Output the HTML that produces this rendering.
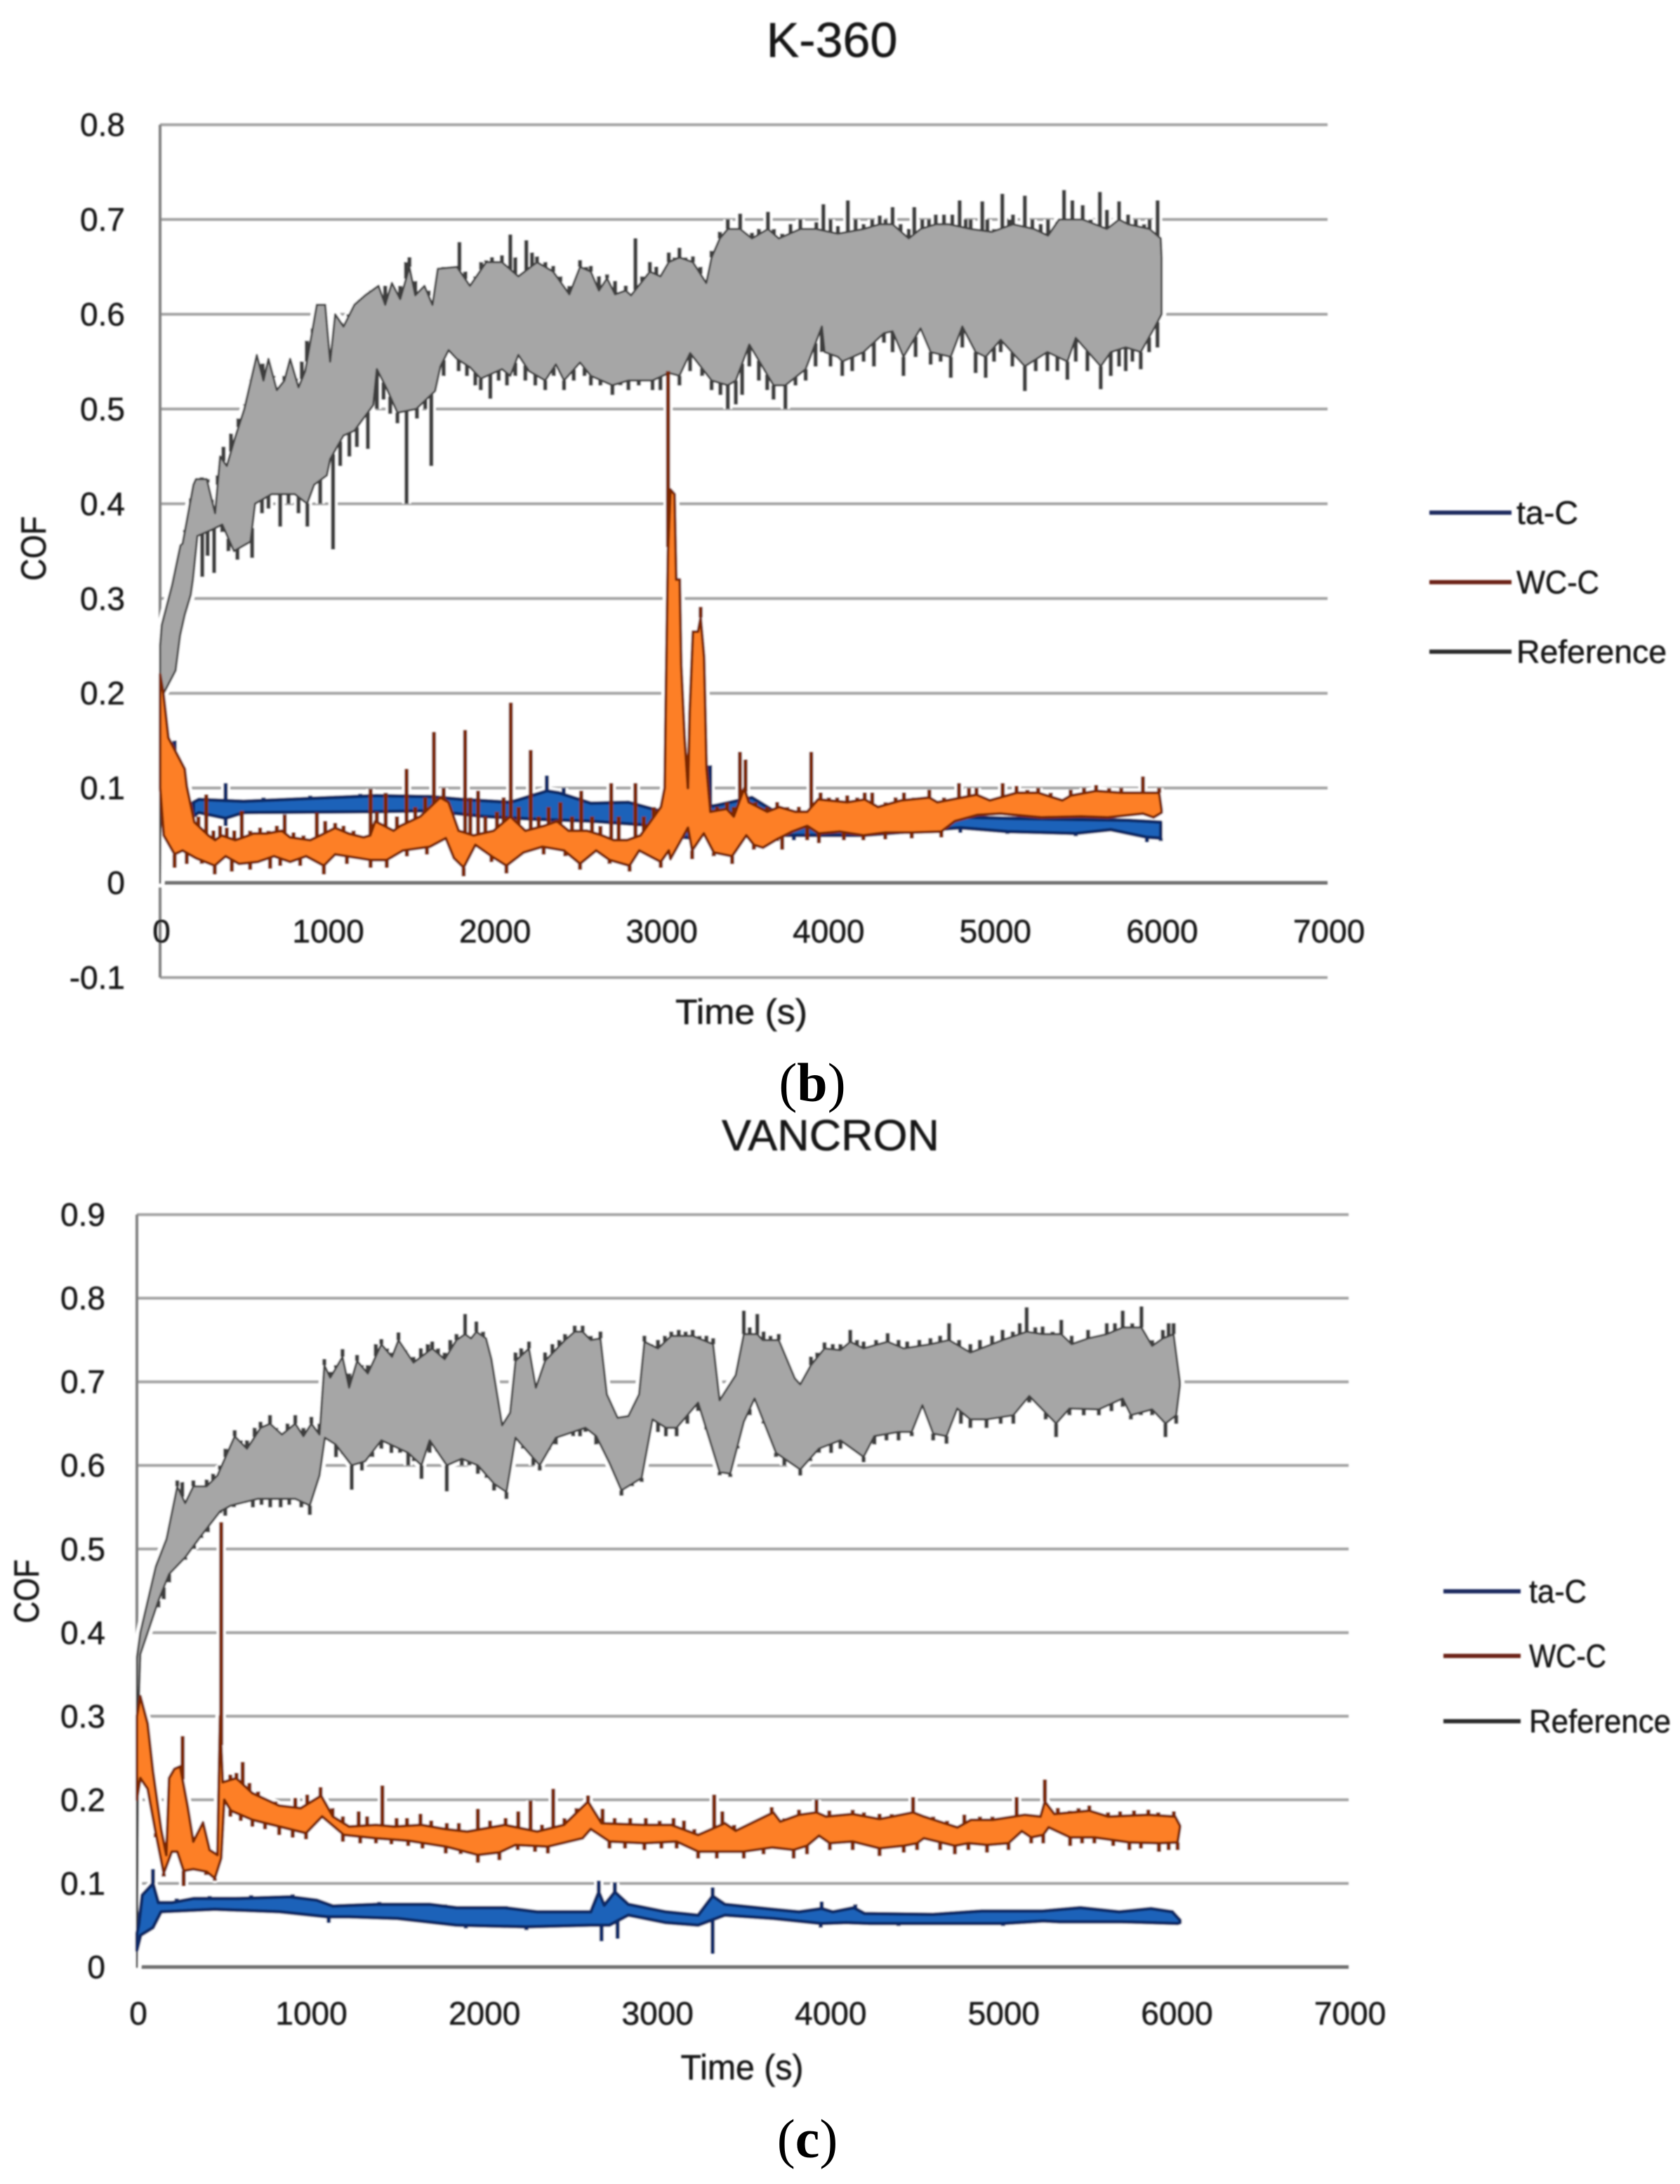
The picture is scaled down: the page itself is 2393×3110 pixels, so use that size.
<!DOCTYPE html>
<html lang="en">
<head>
<meta charset="utf-8">
<title>COF vs Time: K-360 and VANCRON</title>
<style>
html,body{margin:0;padding:0;background:#fff;}
svg{display:block;}
text{font-family:"Liberation Sans",sans-serif;fill:#141414;stroke:#141414;stroke-width:.5px;}
.sub{font-family:"Liberation Serif",serif;fill:#000;stroke:none;font-size:78px;}
</style>
</head>
<body>
<svg id="figure" xmlns="http://www.w3.org/2000/svg" width="2393" height="3110" viewBox="0 0 2393 3110">
  <defs>
    <filter id="soft" x="-2%" y="-2%" width="104%" height="104%"><feGaussianBlur stdDeviation="1"/></filter>
  </defs>
  <rect x="0" y="0" width="2393" height="3110" fill="#fff"/>
  <g id="chartK" filter="url(#soft)">
    <text x="1185" y="81" font-size="70" text-anchor="middle">K-360</text>
    <text transform="translate(65,781) rotate(-90)" font-size="50" text-anchor="middle" textLength="92" lengthAdjust="spacingAndGlyphs">COF</text>
    <text x="1056" y="1458" font-size="50" text-anchor="middle" textLength="188" lengthAdjust="spacingAndGlyphs">Time (s)</text>
  </g>
  <g id="chartV" filter="url(#soft)">
    <text x="1183" y="1638" font-size="62" text-anchor="middle" textLength="310" lengthAdjust="spacingAndGlyphs">VANCRON</text>
    <text transform="translate(55,2266) rotate(-90)" font-size="50" text-anchor="middle" textLength="91" lengthAdjust="spacingAndGlyphs">COF</text>
    <text x="1057" y="2961" font-size="50" text-anchor="middle" textLength="175" lengthAdjust="spacingAndGlyphs">Time (s)</text>
  </g>
  <text class="sub" x="1157" y="1568" text-anchor="middle"><tspan>(</tspan><tspan font-weight="bold">b</tspan><tspan>)</tspan></text>
  <text class="sub" x="1150" y="3072" text-anchor="middle"><tspan>(</tspan><tspan font-weight="bold">c</tspan><tspan>)</tspan></text>
</svg>
<script>
// ---- shared tick labels and legend labels ----
const xTickLabels = [0,1000,2000,3000,4000,5000,6000,7000];
const k360YTickLabels = [0.8,0.7,0.6,0.5,0.4,0.3,0.2,0.1,0,-0.1];
const vancronYTickLabels = [0.9,0.8,0.7,0.6,0.5,0.4,0.3,0.2,0.1,0];
const legendLabels = ['ta-C','WC-C','Reference'];

// ---- K-360: [time s, COF] readings ----
const k360RefTop = [[0,.25],[10,.272],[72,.314],[122,.356],[135,.358],[200,.42],[215,.426],[280,.426],[330,.39],[360,.45],[400,.44],[450,.47],[505,.50],[580,.557],[620,.53],[650,.553],[700,.52],[745,.53],[780,.553],[830,.523],[870,.54],[940,.61],[990,.61],[1020,.55],[1050,.60],[1100,.587],[1165,.61],[1230,.62],[1310,.63],[1350,.61],[1390,.633],[1440,.616],[1495,.65],[1530,.62],[1585,.63],[1633,.61],[1665,.648],[1780,.65],[1858,.63],[1955,.655],[2050,.655],[2148,.64],[2260,.655],[2357,.645],[2454,.621],[2518,.65],[2583,.645],[2631,.625],[2680,.638],[2728,.621],[2792,.625],[2824,.62],[2937,.645],[3000,.64],[3050,.655],[3114,.66],[3195,.655],[3275,.633],[3307,.66],[3356,.68],[3404,.69],[3478,.69],[3549,.68],[3645,.69],[3710,.68],[3839,.69],[3935,.69],[4064,.685],[4218,.69],[4315,.695],[4392,.695],[4489,.68],[4560,.69],[4651,.695],[4730,.695],[4860,.69],[4987,.687],[5114,.695],[5240,.69],[5324,.683],[5390,.70],[5532,.70],[5677,.69],[5750,.70],[5804,.695],[5933,.69],[6000,.68],[6005,.66]];
const k360RefLow = [[0,0],[5,.15],[22,.2],[93,.224],[120,.261],[148,.283],[184,.304],[197,.32],[224,.366],[304,.372],[373,.378],[443,.35],[542,.36],[570,.40],[668,.41],[808,.41],[882,.40],[924,.42],[1000,.43],[1020,.447],[1100,.472],[1165,.477],[1278,.504],[1300,.542],[1360,.521],[1423,.496],[1536,.50],[1649,.519],[1681,.545],[1730,.562],[1778,.553],[1858,.544],[1923,.532],[2050,.542],[2100,.535],[2148,.557],[2212,.54],[2309,.53],[2373,.547],[2422,.53],[2518,.549],[2583,.535],[2712,.525],[2808,.53],[2953,.53],[3050,.538],[3114,.535],[3178,.559],[3307,.53],[3404,.525],[3452,.53],[3533,.568],[3678,.525],[3749,.525],[3871,.542],[3968,.587],[3984,.56],[4064,.555],[4090,.55],[4218,.56],[4340,.58],[4392,.582],[4457,.555],[4560,.585],[4620,.56],[4741,.555],[4810,.587],[4890,.56],[4950,.555],[5040,.573],[5185,.545],[5320,.56],[5440,.55],[5490,.575],[5640,.545],[5700,.56],[5790,.565],[5880,.56],[5960,.585],[6005,.60]];
const k360RefTopSpikes = [[150,.37],[185,.40],[215,.426],[250,.428],[285,.426],[310,.40],[345,.43],[380,.46],[425,.474],[470,.49],[510,.505],[545,.53],[580,.557],[615,.548],[650,.553],[680,.535],[745,.535],[780,.553],[815,.53],[850,.55],[880,.572],[915,.58],[945,.61],[985,.61],[1050,.60],[1085,.585],[1130,.60],[1165,.61],[1200,.615],[1230,.62],[1265,.625],[1310,.63],[1350,.63],[1390,.633],[1440,.63],[1475,.655],[1495,.66],[1530,.635],[1585,.63],[1610,.625],[1665,.648],[1700,.65],[1740,.65],[1795,.676],[1830,.645],[1890,.64],[1925,.655],[1955,.657],[1990,.66],[2050,.662],[2100,.684],[2130,.66],[2196,.678],[2230,.665],[2260,.661],[2310,.655],[2357,.651],[2400,.64],[2454,.63],[2518,.657],[2555,.65],[2583,.651],[2631,.64],[2680,.642],[2728,.635],[2792,.63],[2850,.68],[2890,.64],[2937,.655],[2975,.65],[3050,.665],[3085,.66],[3114,.67],[3150,.66],[3195,.661],[3240,.65],[3307,.667],[3356,.687],[3404,.70],[3440,.69],[3478,.706],[3510,.685],[3549,.686],[3590,.69],[3645,.708],[3680,.69],[3730,.685],[3780,.695],[3839,.70],[3890,.69],[3935,.697],[3977,.716],[4020,.70],[4064,.693],[4124,.72],[4170,.70],[4218,.695],[4270,.70],[4315,.704],[4350,.70],[4392,.713],[4440,.695],[4489,.69],[4522,.713],[4570,.70],[4610,.70],[4651,.705],[4700,.705],[4750,.705],[4794,.72],[4830,.70],[4860,.70],[4930,.719],[4960,.70],[5000,.69],[5050,.727],[5090,.70],[5114,.705],[5185,.725],[5230,.70],[5280,.695],[5324,.70],[5380,.695],[5420,.731],[5470,.72],[5532,.715],[5580,.70],[5635,.729],[5677,.71],[5750,.719],[5804,.705],[5850,.70],[5900,.695],[5933,.70],[5981,.72]];
const k360RefLowSpikes = [[253,.323],[285,.345],[324,.327],[373,.37],[410,.35],[464,.341],[510,.37],[552,.343],[611,.39],[650,.395],[720,.376],[770,.40],[830,.39],[883,.376],[960,.40],[1037,.352],[1080,.44],[1135,.45],[1180,.46],[1246,.458],[1300,.50],[1340,.51],[1380,.495],[1423,.485],[1478,.40],[1540,.49],[1590,.50],[1626,.44],[1700,.535],[1790,.54],[1840,.535],[1890,.525],[1923,.52],[1980,.511],[2030,.53],[2080,.525],[2130,.535],[2190,.53],[2250,.525],[2309,.52],[2360,.535],[2422,.52],[2480,.53],[2545,.535],[2583,.525],[2640,.525],[2712,.515],[2760,.525],[2808,.52],[2870,.525],[2953,.52],[3000,.52],[3114,.525],[3178,.54],[3250,.535],[3307,.52],[3360,.515],[3404,.50],[3452,.505],[3490,.515],[3533,.545],[3590,.53],[3640,.52],[3678,.51],[3749,.50],[3810,.525],[3871,.53],[3930,.545],[3968,.56],[4020,.545],[4090,.535],[4150,.54],[4218,.55],[4280,.545],[4340,.57],[4392,.56],[4457,.535],[4530,.555],[4620,.547],[4680,.55],[4741,.533],[4810,.565],[4890,.538],[4950,.533],[5000,.55],[5040,.56],[5110,.545],[5185,.519],[5250,.54],[5320,.54],[5380,.54],[5440,.531],[5490,.55],[5560,.54],[5640,.521],[5700,.535],[5750,.545],[5790,.54],[5830,.55],[5880,.542],[5930,.56],[5980,.565]];

const k360TacTop = [[200,.085],[232,.088],[500,.086],[1295,.092],[1617,.091],[1810,.088],[2100,.085],[2319,.097],[2390,.095],[2583,.084],[2808,.085],[3034,.074],[3280,.08],[3340,.082],[3549,.09],[3678,.076],[4061,.072],[4600,.07],[5100,.068],[5800,.066],[6000,.064]];
const k360TacLow = [[200,.07],[232,.074],[393,.068],[500,.074],[1295,.075],[1617,.076],[1939,.07],[2255,.067],[2583,.065],[2905,.061],[3066,.049],[3195,.047],[3290,.055],[3549,.05],[3880,.05],[4217,.05],[4798,.058],[5080,.054],[5490,.052],[5700,.056],[5917,.048],[6000,.047]];
const k360TacTopSpikes = [[87,.15],[393,.105],[620,.09],[900,.092],[1200,.094],[1700,.095],[2319,.113],[2420,.10],[3298,.124],[3510,.095],[3600,.085]];
const k360TacLowSpikes = [[393,.06],[3800,.045],[4217,.048],[4798,.053],[5080,.0515],[5490,.049],[5917,.043],[6000,.044]];

const k360WcTop = [[0,.22],[20,.20],[50,.153],[148,.12],[160,.102],[206,.064],[290,.05],[330,.045],[370,.05],[450,.045],[500,.048],[560,.052],[640,.052],[730,.055],[780,.048],[900,.045],[960,.05],[1050,.058],[1130,.052],[1220,.048],[1260,.05],[1290,.065],[1400,.055],[1440,.06],[1560,.07],[1620,.08],[1680,.09],[1730,.085],[1790,.055],[1880,.05],[2000,.055],[2100,.07],[2190,.055],[2300,.06],[2380,.065],[2450,.055],[2560,.055],[2650,.05],[2720,.045],[2800,.045],[2880,.05],[3003,.08],[3025,.10],[3030,.165],[3045,.35],[3060,.415],[3085,.41],[3095,.32],[3116,.32],[3125,.23],[3145,.153],[3165,.10],[3175,.18],[3186,.227],[3195,.265],[3225,.265],[3241,.28],[3262,.238],[3277,.121],[3300,.075],[3397,.078],[3440,.07],[3503,.10],[3530,.085],[3640,.075],[3712,.08],[3810,.075],[3880,.075],[3945,.088],[4120,.085],[4225,.088],[4305,.08],[4444,.087],[4612,.09],[4660,.085],[4895,.093],[4975,.087],[5135,.095],[5265,.095],[5410,.087],[5460,.092],[5612,.097],[5763,.095],[5860,.095],[5990,.095],[6005,.077]];
const k360WcLow = [[0,.10],[22,.05],[87,.03],[135,.034],[215,.026],[328,.018],[393,.028],[473,.02],[586,.022],[683,.028],[780,.022],[876,.028],[982,.018],[1050,.03],[1262,.024],[1359,.024],[1456,.034],[1617,.038],[1713,.047],[1762,.026],[1820,.016],[1891,.04],[1987,.028],[2077,.018],[2180,.032],[2293,.038],[2422,.034],[2518,.02],[2615,.034],[2695,.024],[2815,.018],[2873,.034],[3002,.022],[3050,.034],[3060,.025],[3165,.058],[3190,.034],[3260,.052],[3320,.032],[3430,.028],[3515,.05],[3560,.04],[3615,.037],[3700,.046],[3790,.054],[3880,.06],[3950,.052],[4074,.054],[4217,.05],[4348,.053],[4507,.053],[4684,.054],[4765,.065],[4900,.0716],[5038,.073],[5284,.069],[5522,.07],[5682,.069],[5893,.073],[5957,.069],[6005,.074]];
const k360WcTopSpikes = [[230,.07],[277,.093],[320,.055],[360,.06],[400,.058],[445,.055],[490,.076],[540,.055],[600,.058],[650,.055],[700,.06],[747,.072],[800,.053],[860,.05],[940,.074],[990,.065],[1050,.063],[1100,.06],[1160,.055],[1262,.099],[1300,.075],[1353,.095],[1420,.07],[1478,.12],[1530,.08],[1590,.09],[1642,.159],[1700,.10],[1829,.161],[1860,.09],[1907,.097],[1950,.07],[2020,.075],[2060,.09],[2103,.19],[2150,.08],[2222,.14],[2270,.07],[2330,.08],[2400,.085],[2470,.07],[2525,.097],[2590,.07],[2640,.06],[2705,.105],[2750,.07],[2850,.105],[2900,.07],[2960,.08],[3046,.54],[3241,.291],[3340,.08],[3400,.085],[3440,.08],[3477,.138],[3510,.13],[3570,.085],[3640,.08],[3700,.085],[3760,.08],[3830,.08],[3904,.138],[3960,.095],[4010,.09],[4060,.09],[4120,.092],[4180,.09],[4225,.095],[4270,.095],[4350,.085],[4410,.09],[4460,.095],[4520,.09],[4612,.098],[4700,.09],[4790,.105],[4850,.10],[4895,.10],[5052,.105],[5135,.102],[5200,.098],[5265,.10],[5340,.095],[5460,.098],[5540,.10],[5612,.103],[5690,.10],[5763,.10],[5893,.112],[5990,.10]];
const k360WcLowSpikes = [[87,.016],[160,.02],[250,.02],[328,.009],[430,.012],[540,.014],[660,.015],[720,.018],[840,.018],[982,.009],[1120,.02],[1262,.016],[1359,.016],[1480,.028],[1600,.03],[1820,.007],[1987,.022],[2077,.01],[2300,.03],[2430,.028],[2518,.014],[2695,.02],[2815,.012],[3002,.016],[3190,.025],[3320,.028],[3430,.02],[3560,.035],[3700,.044],[3730,.035],[3880,.045],[3950,.042],[4100,.045],[4217,.045],[4348,.046],[4507,.047],[4684,.048]];

// ---- VANCRON: [time s, COF] readings ----
const vancronRefTop = [[0,.37],[20,.40],[109,.479],[171,.512],[233,.575],[279,.555],[326,.575],[403,.575],[465,.588],[512,.61],[565,.635],[636,.62],[714,.645],[769,.65],[838,.637],[915,.65],[962,.635],[1008,.65],[1055,.637],[1083,.72],[1117,.705],[1188,.73],[1226,.693],[1272,.725],[1334,.71],[1412,.745],[1474,.73],[1511,.75],[1598,.723],[1706,.74],[1778,.727],[1846,.75],[1896,.757],[1930,.752],[1961,.76],[2017,.752],[2048,.727],[2110,.648],[2156,.663],[2187,.725],[2265,.74],[2305,.693],[2358,.725],[2473,.75],[2529,.76],[2575,.76],[2622,.75],[2678,.752],[2715,.685],[2777,.657],[2839,.659],[2901,.685],[2932,.748],[3010,.74],[3087,.755],[3211,.755],[3329,.745],[3366,.678],[3459,.708],[3506,.757],[3584,.757],[3615,.75],[3708,.75],[3801,.704],[3832,.697],[3894,.72],[3972,.74],[4064,.738],[4121,.748],[4198,.74],[4337,.748],[4430,.74],[4584,.745],[4692,.75],[4815,.735],[5001,.75],[5140,.76],[5232,.757],[5340,.757],[5400,.745],[5495,.752],[5603,.757],[5695,.765],[5803,.765],[5865,.743],[5927,.752],[5989,.757],[6025,.70]];
const vancronRefLow = [[0,0],[8,.30],[20,.374],[124,.438],[186,.47],[279,.49],[372,.516],[481,.545],[543,.552],[698,.56],[791,.56],[915,.56],[999,.552],[1055,.588],[1086,.633],[1148,.625],[1241,.60],[1319,.605],[1412,.63],[1567,.615],[1644,.60],[1691,.63],[1790,.60],[1877,.608],[1970,.60],[2063,.578],[2135,.568],[2187,.633],[2327,.60],[2420,.633],[2591,.645],[2653,.635],[2730,.603],[2799,.57],[2916,.585],[2979,.655],[3056,.645],[3118,.645],[3242,.675],[3366,.592],[3428,.59],[3506,.652],[3568,.68],[3692,.615],[3832,.595],[3940,.62],[4064,.63],[4198,.61],[4260,.635],[4400,.64],[4476,.64],[4538,.672],[4600,.638],[4677,.635],[4739,.668],[4815,.655],[4908,.655],[5063,.66],[5155,.683],[5310,.65],[5387,.668],[5557,.667],[5695,.68],[5742,.66],[5865,.667],[5942,.65],[6004,.66],[6025,.695]];
const vancronRefTopSpikes = [[233,.582],[262,.58],[326,.582],[360,.575],[403,.583],[440,.59],[480,.60],[512,.62],[565,.642],[600,.63],[636,.63],[680,.645],[714,.652],[769,.66],[805,.645],[870,.65],[915,.66],[962,.645],[1008,.658],[1055,.65],[1083,.727],[1117,.712],[1150,.72],[1188,.739],[1226,.71],[1272,.732],[1300,.72],[1334,.72],[1380,.745],[1412,.751],[1445,.74],[1474,.735],[1511,.759],[1550,.735],[1598,.73],[1640,.74],[1680,.745],[1706,.748],[1740,.74],[1778,.735],[1810,.75],[1846,.757],[1896,.781],[1961,.772],[2000,.76],[2187,.735],[2220,.74],[2265,.748],[2358,.735],[2400,.745],[2440,.75],[2473,.757],[2529,.767],[2575,.767],[2622,.755],[2678,.76],[2932,.755],[2970,.745],[3010,.75],[3050,.755],[3087,.76],[3130,.762],[3170,.76],[3211,.762],[3250,.755],[3290,.755],[3329,.752],[3506,.785],[3540,.765],[3584,.781],[3620,.76],[3660,.755],[3708,.757],[3894,.73],[3930,.735],[3972,.747],[4020,.745],[4064,.745],[4121,.762],[4160,.75],[4198,.748],[4270,.75],[4337,.758],[4400,.75],[4450,.748],[4520,.75],[4584,.752],[4640,.755],[4692,.77],[4750,.75],[4815,.745],[4870,.75],[4940,.755],[5001,.762],[5060,.76],[5100,.77],[5140,.789],[5190,.765],[5232,.766],[5290,.76],[5340,.774],[5400,.755],[5495,.762],[5550,.755],[5603,.77],[5650,.77],[5695,.785],[5750,.77],[5803,.79],[5865,.75],[5927,.762],[5960,.77],[5989,.77]];
const vancronRefLowSpikes = [[124,.43],[155,.44],[186,.46],[279,.487],[330,.50],[372,.513],[410,.52],[481,.543],[510,.54],[560,.55],[620,.555],[670,.55],[720,.553],[770,.55],[830,.55],[880,.553],[950,.55],[999,.541],[1150,.61],[1190,.615],[1241,.571],[1300,.594],[1360,.61],[1412,.62],[1470,.615],[1520,.615],[1567,.60],[1600,.605],[1644,.584],[1691,.615],[1735,.62],[1790,.569],[1840,.61],[1877,.60],[1920,.60],[1970,.59],[2020,.585],[2063,.57],[2135,.56],[2230,.62],[2290,.60],[2327,.594],[2380,.62],[2420,.625],[2470,.64],[2520,.635],[2560,.635],[2591,.64],[2653,.625],[2799,.564],[2860,.575],[2916,.58],[3010,.64],[3056,.635],[3118,.635],[3180,.65],[3242,.665],[3290,.655],[3366,.588],[3428,.586],[3470,.62],[3540,.66],[3620,.65],[3692,.61],[3740,.60],[3832,.588],[3890,.605],[3940,.615],[4010,.615],[4064,.62],[4198,.604],[4260,.625],[4330,.63],[4400,.63],[4476,.635],[4600,.63],[4677,.626],[4760,.65],[4815,.645],[4908,.645],[4990,.65],[5063,.65],[5155,.675],[5250,.655],[5310,.634],[5387,.66],[5470,.66],[5557,.66],[5630,.665],[5695,.67],[5742,.655],[5800,.66],[5865,.66],[5942,.634],[6004,.65]];

const vancronTacTop = [[0,.04],[10,.05],[31,.086],[93,.10],[124,.077],[202,.077],[326,.082],[574,.082],[884,.084],[1039,.08],[1132,.073],[1381,.075],[1691,.075],[1846,.071],[2125,.071],[2312,.066],[2622,.066],[2668,.09],[2700,.074],[2761,.09],[2839,.075],[3056,.066],[3242,.062],[3326,.085],[3397,.075],[3677,.069],[3825,.066],[3956,.07],[4020,.066],[4142,.071],[4204,.064],[4600,.063],[4880,.067],[5230,.067],[5450,.071],[5675,.066],[5858,.07],[5982,.066],[6026,.056]];
const vancronTacLow = [[0,.02],[22,.038],[93,.047],[140,.066],[450,.069],[822,.066],[1101,.06],[1226,.06],[1505,.058],[1846,.05],[2250,.048],[2622,.05],[2730,.05],[2839,.062],[3056,.053],[3242,.05],[3397,.062],[3677,.058],[3956,.052],[4097,.053],[4233,.052],[4600,.052],[5004,.052],[5236,.055],[5330,.054],[5687,.054],[6012,.052],[6026,.053]];
const vancronTacTopSpikes = [[93,.117],[2668,.103],[2761,.101],[3326,.095],[3956,.078],[4150,.075],[230,.082],[420,.085],[660,.086],[900,.087],[1400,.078],[1780,.075],[2130,.073]];
const vancronTacLowSpikes = [[1108,.053],[2684,.031],[2777,.034],[3326,.016],[2250,.044],[1900,.046],[3950,.047],[4400,.049],[5004,.049]];

const vancronWcTop = [[0,.30],[20,.324],[62,.291],[93,.234],[140,.165],[170,.134],[186,.226],[217,.237],[250,.24],[295,.19],[326,.15],[382,.173],[420,.14],[465,.134],[480,.30],[496,.221],[574,.226],[667,.208],[822,.193],[946,.19],[1064,.205],[1132,.18],[1226,.168],[1381,.17],[1489,.168],[1644,.17],[1784,.165],[1908,.162],[2125,.17],[2312,.162],[2467,.17],[2606,.198],[2684,.172],[2932,.17],[3087,.17],[3242,.158],[3397,.172],[3459,.163],[3677,.185],[3717,.174],[3825,.182],[3926,.185],[3980,.18],[4135,.183],[4290,.177],[4484,.185],[4546,.18],[4740,.167],[4818,.176],[4942,.176],[5004,.178],[5128,.182],[5220,.18],[5245,.198],[5300,.183],[5502,.187],[5610,.18],[5843,.182],[5998,.18],[6026,.169]];
const vancronWcLow = [[0,.20],[20,.226],[62,.213],[109,.16],[155,.112],[202,.138],[233,.138],[270,.115],[326,.117],[403,.114],[450,.106],[487,.13],[505,.20],[543,.187],[667,.176],[822,.168],[977,.16],[1070,.18],[1195,.158],[1381,.154],[1567,.151],[1784,.144],[1970,.134],[2094,.137],[2187,.146],[2374,.144],[2575,.154],[2622,.165],[2730,.15],[2932,.148],[3118,.15],[3242,.138],[3506,.138],[3670,.143],[3794,.14],[3871,.145],[3941,.157],[4003,.148],[4135,.15],[4290,.142],[4430,.145],[4507,.148],[4546,.154],[4725,.145],[4803,.148],[4911,.146],[5035,.148],[5112,.1625],[5166,.155],[5236,.158],[5267,.167],[5391,.155],[5531,.155],[5733,.149],[5904,.148],[6012,.149],[6026,.167]];
const vancronWcTopSpikes = [[264,.276],[487,.532],[540,.23],[575,.232],[611,.245],[650,.22],[700,.21],[750,.20],[800,.198],[850,.19],[915,.202],[984,.206],[1061,.215],[1130,.19],[1190,.18],[1281,.186],[1330,.18],[1418,.217],[1500,.178],[1560,.178],[1638,.183],[1700,.175],[1790,.172],[1860,.172],[1970,.189],[2040,.175],[2130,.178],[2203,.186],[2274,.199],[2340,.17],[2405,.213],[2470,.178],[2540,.19],[2606,.205],[2690,.189],[2760,.178],[2850,.178],[2940,.178],[3020,.175],[3100,.178],[3160,.175],[3220,.165],[3335,.206],[3382,.186],[3450,.17],[3530,.17],[3600,.178],[3667,.191],[3740,.178],[3825,.188],[3926,.2],[4000,.187],[4135,.188],[4200,.185],[4290,.183],[4360,.183],[4430,.183],[4484,.203],[4600,.18],[4680,.175],[4780,.182],[4870,.18],[4942,.18],[5082,.203],[5245,.224],[5320,.19],[5390,.187],[5440,.19],[5502,.193],[5610,.185],[5680,.186],[5760,.187],[5843,.188],[5900,.185],[5990,.186]];
const vancronWcLowSpikes = [[109,.155],[155,.108],[270,.097],[400,.11],[450,.103],[540,.18],[600,.175],[667,.168],[740,.165],[822,.158],[900,.155],[977,.153],[1190,.15],[1290,.148],[1381,.148],[1470,.147],[1567,.145],[1650,.142],[1784,.136],[1870,.135],[1970,.125],[2094,.128],[2200,.14],[2300,.138],[2374,.136],[2470,.148],[2730,.142],[2820,.142],[2932,.14],[3030,.142],[3118,.142],[3242,.13],[3350,.13],[3506,.13],[3620,.135],[3794,.13],[3871,.135],[4003,.14],[4135,.14],[4290,.133],[4430,.137],[4507,.14],[4640,.14],[4725,.135],[4803,.14],[4911,.137],[5035,.14],[5166,.148],[5236,.148],[5391,.145],[5460,.148],[5531,.148],[5640,.145],[5733,.14],[5800,.142],[5904,.138],[5960,.14],[6012,.14]];

// ---- drawing ----
const SVGNS = 'http://www.w3.org/2000/svg';

function makeScale(d0, d1, r0, r1) {
  return function (v) { return r0 + (v - d0) / (d1 - d0) * (r1 - r0); };
}
function envelopeAt(points, t) {
  if (t <= points[0][0]) return points[0][1];
  for (let i = 1; i < points.length; i++) {
    if (t <= points[i][0]) {
      const a = points[i - 1], b = points[i];
      return a[1] + (b[1] - a[1]) * (t - a[0]) / (b[0] - a[0]);
    }
  }
  return points[points.length - 1][1];
}
function bandPath(top, low, x, y) {
  let d = '';
  top.forEach(function (p, i) { d += (i ? 'L' : 'M') + x(p[0]).toFixed(1) + ' ' + y(p[1]).toFixed(1); });
  for (let i = low.length - 1; i >= 0; i--) { d += 'L' + x(low[i][0]).toFixed(1) + ' ' + y(low[i][1]).toFixed(1); }
  return d + 'Z';
}
function spikePath(spikes, base, x, y) {
  let d = '';
  spikes.forEach(function (p) {
    d += 'M' + x(p[0]).toFixed(1) + ' ' + y(p[1]).toFixed(1) + 'L' + x(p[0]).toFixed(1) + ' ' + y(envelopeAt(base, p[0])).toFixed(1);
  });
  return d;
}
function addPath(parent, d, fill, stroke, width) {
  const el = document.createElementNS(SVGNS, 'path');
  el.setAttribute('d', d);
  el.setAttribute('fill', fill);
  el.setAttribute('stroke', stroke);
  el.setAttribute('stroke-width', width);
  el.setAttribute('stroke-linejoin', 'round');
  parent.appendChild(el);
  return el;
}
function addText(parent, x, y, str, size, anchor) {
  const el = document.createElementNS(SVGNS, 'text');
  el.setAttribute('x', x);
  el.setAttribute('y', y);
  el.setAttribute('font-size', size);
  el.setAttribute('text-anchor', anchor);
  el.textContent = str;
  parent.appendChild(el);
  return el;
}

function drawChart(g, prefix, cfg, seriesList) {
  const x = makeScale(0, 7000, cfg.x0, cfg.x1);
  const y = makeScale(cfg.yTop, cfg.yBottom, cfg.py0, cfg.py1);

  cfg.yTicks.forEach(function (v) {
    const grid = document.createElementNS(SVGNS, 'line');
    
    
    grid.setAttribute('x1', cfg.x0);
    grid.setAttribute('x2', cfg.x1);
    grid.setAttribute('y1', y(v));
    grid.setAttribute('y2', y(v));
    grid.setAttribute('stroke', v === 0 ? '#6e6e6e' : '#a2a2a2');
    grid.setAttribute('stroke-width', v === 0 ? 5 : 4);
    g.appendChild(grid);
    const lab = addText(g, cfg.yLabelX, y(v) + 16, String(v), 46, 'end');
    
    
  });

  const axis = document.createElementNS(SVGNS, 'line');
  
  
  axis.setAttribute('x1', cfg.x0);
  axis.setAttribute('x2', cfg.x0);
  axis.setAttribute('y1', cfg.py0);
  axis.setAttribute('y2', cfg.py1);
  axis.setAttribute('stroke', '#808080');
  axis.setAttribute('stroke-width', 4);
  g.appendChild(axis);

  xTickLabels.forEach(function (v) {
    const lab = addText(g, x(v) + cfg.xLabelDx, cfg.xLabelY, String(v), 46, 'middle');
    
    
  });

  seriesList.forEach(function (s) {
    const halo = addPath(g, bandPath(s.top, s.low, x, y) + spikePath(s.topSpikes, s.top, x, y) + spikePath(s.lowSpikes, s.low, x, y), '#fff', '#fff', 13);
    
    
  });
  seriesList.forEach(function (s) {
    const up = addPath(g, spikePath(s.topSpikes, s.top, x, y), 'none', s.edge, s.spikeWidth);
    
    
    const down = addPath(g, spikePath(s.lowSpikes, s.low, x, y), 'none', s.edge, s.spikeWidth);
    
    
    const band = addPath(g, bandPath(s.top, s.low, x, y), s.fill, s.edge, s.edgeWidth);
    
    
  });

  legendLabels.forEach(function (label, i) {
    const swatch = document.createElementNS(SVGNS, 'line');
    
    
    swatch.setAttribute('x1', cfg.legendX0);
    swatch.setAttribute('x2', cfg.legendX1);
    swatch.setAttribute('y1', cfg.legendY[i]);
    swatch.setAttribute('y2', cfg.legendY[i]);
    swatch.setAttribute('stroke', cfg.legendColors[i]);
    swatch.setAttribute('stroke-width', 6);
    g.appendChild(swatch);
    const t = addText(g, cfg.legendTextX, cfg.legendY[i] + 16, label, 46, 'start');
    
    
    t.setAttribute('textLength', cfg.legendWidths[i]);
    t.setAttribute('lengthAdjust', 'spacingAndGlyphs');
  });
}

const legendColours = ['#1a2a5e', '#6c2212', '#2b2b2b'];

drawChart(document.getElementById('chartK'), 'k360', {
  x0: 228, x1: 1891, yTop: 0.8, yBottom: -0.1, py0: 177.6, py1: 1392,
  yTicks: k360YTickLabels, yLabelX: 178, xLabelDx: 2, xLabelY: 1342,
  legendX0: 2036, legendX1: 2153, legendTextX: 2160, legendY: [730, 829, 928],
  legendColors: legendColours, legendWidths: [88, 118, 214]
}, [
  { name: 'reference', top: k360RefTop, low: k360RefLow, topSpikes: k360RefTopSpikes, lowSpikes: k360RefLowSpikes, fill: '#a6a6a6', edge: '#3c3c3c', spikeWidth: 6, edgeWidth: 3 },
  { name: 'ta-c', top: k360TacTop, low: k360TacLow, topSpikes: k360TacTopSpikes, lowSpikes: k360TacLowSpikes, fill: '#1c62b9', edge: '#0b2a68', spikeWidth: 6, edgeWidth: 5 },
  { name: 'wc-c', top: k360WcTop, low: k360WcLow, topSpikes: k360WcTopSpikes, lowSpikes: k360WcLowSpikes, fill: '#fd7f25', edge: '#7a2805', spikeWidth: 6, edgeWidth: 4 }
]);

drawChart(document.getElementById('chartV'), 'vancron', {
  x0: 195, x1: 1921, yTop: 0.9, yBottom: 0, py0: 1729.6, py1: 2801,
  yTicks: vancronYTickLabels, yLabelX: 150, xLabelDx: 2, xLabelY: 2883,
  legendX0: 2056, legendX1: 2166, legendTextX: 2178, legendY: [2266, 2358, 2451],
  legendColors: legendColours, legendWidths: [82, 110, 202]
}, [
  { name: 'reference', top: vancronRefTop, low: vancronRefLow, topSpikes: vancronRefTopSpikes, lowSpikes: vancronRefLowSpikes, fill: '#a6a6a6', edge: '#3c3c3c', spikeWidth: 6, edgeWidth: 3 },
  { name: 'ta-c', top: vancronTacTop, low: vancronTacLow, topSpikes: vancronTacTopSpikes, lowSpikes: vancronTacLowSpikes, fill: '#1c62b9', edge: '#0b2a68', spikeWidth: 6, edgeWidth: 5 },
  { name: 'wc-c', top: vancronWcTop, low: vancronWcLow, topSpikes: vancronWcTopSpikes, lowSpikes: vancronWcLowSpikes, fill: '#fd7f25', edge: '#7a2805', spikeWidth: 6, edgeWidth: 4 }
]);
</script>
</body>
</html>
